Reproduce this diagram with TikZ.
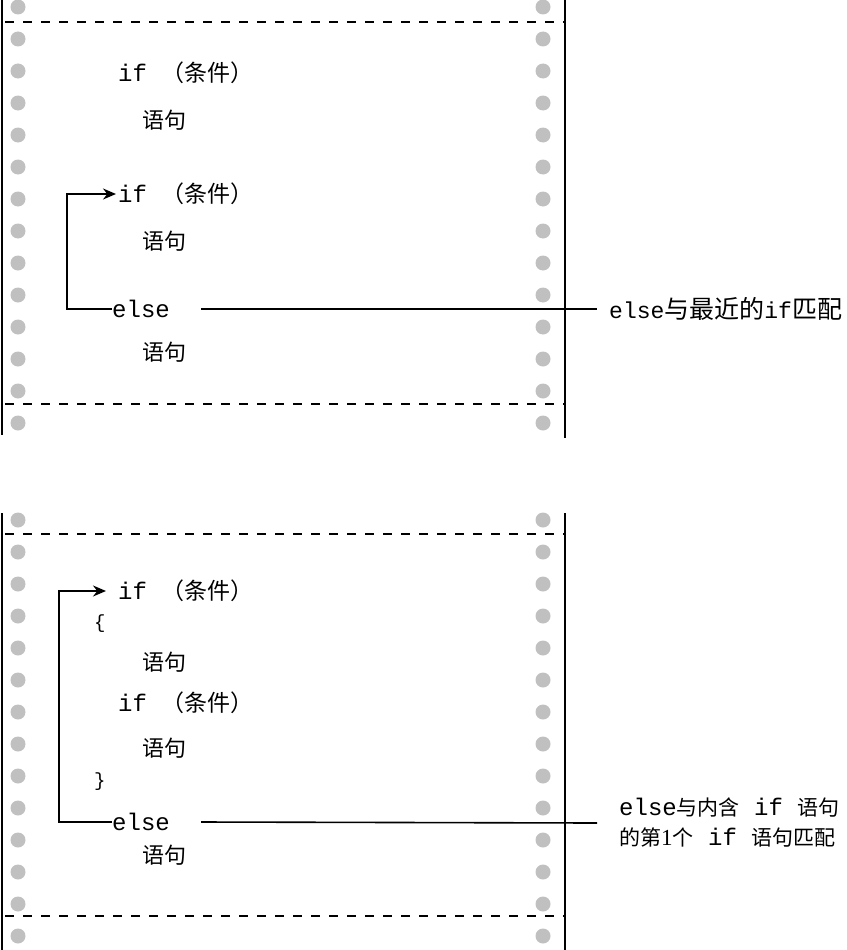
\documentclass[tikz,border=0pt]{standalone}
\usepackage{fontspec}
\setmainfont{Liberation Serif}
\setmonofont{Liberation Mono}
\newfontfamily\cjk{Noto Sans CJK SC}
\usetikzlibrary{arrows.meta}
\definecolor{holegray}{HTML}{C0C0C0}

\tikzset{
    code/.style={anchor=west, inner sep=0pt, font=\fontsize{24}{24}\selectfont\ttfamily},
    brace/.style={anchor=west, inner sep=0pt, font=\fontsize{19}{19}\selectfont\ttfamily},
    stmt/.style={anchor=west, inner sep=0pt, font=\fontsize{22}{22}\selectfont\cjk},
    note/.style={anchor=west, inner sep=0pt, align=left, font=\fontsize{21}{30}\selectfont\cjk},
    hole/.style={fill=holegray, draw=none},
    edge/.style={line width=2pt},
    perf/.style={line width=2pt, dash pattern=on 9pt off 9pt},
    link/.style={line width=1.6pt},
}
\newcommand{\ifcond}{if {\fontsize{23}{23}\selectfont\cjk （条件）}}
\newcommand{\mono}[2][24]{{\fontsize{#1}{#1}\selectfont\ttfamily #2}}

\begin{document}
\begin{tikzpicture}[x=1pt, y=-1pt, >={Stealth[length=13pt,width=11pt]}]
        \useasboundingbox (0,0) rectangle (846,950);

        % paper edges and perforations
        \draw[edge] (2,0) -- (2,435);
        \draw[edge] (565,0) -- (565,438);
        \draw[edge] (2,513) -- (2,950);
        \draw[edge] (565,513) -- (565,950);
        \draw[perf] (5,22) -- (565,22);
        \draw[perf] (5,404) -- (565,404);
        \draw[perf] (5,534) -- (565,534);
        \draw[perf] (5,916) -- (565,916);
        \foreach \y in {7,39,...,423} {
            \fill[hole] (18,\y) circle (7.5);
            \fill[hole] (543,\y) circle (7.5);
        }
        \foreach \y in {520,552,...,936} {
            \fill[hole] (18,\y) circle (7.5);
            \fill[hole] (543,\y) circle (7.5);
        }

        % first listing
        \node[code] (ifa) at (118,73) {\ifcond};
        \node[stmt] (stmta) at (142,120) {语句};
        \node[code] (ifb) at (118,194) {\ifcond};
        \node[stmt] (stmtb) at (142,241) {语句};
        \node[code] (elsea) at (112,309) {else};
        \node[stmt] (stmtc) at (142,352) {语句};
        \node[note, font=\fontsize{25}{30}\selectfont\cjk] (notea) at (609,309) {\mono[23]{else}与最近的\mono[23]{if}匹配};

        \draw[->, link] (elsea.west) -- ++(-45,0) |- ([xshift=-2pt]ifb.west);
        \draw[link] ([xshift=31pt]elsea.east) -- ([xshift=-12pt]notea.west);

        % second listing
        \node[code] (ifc) at (118,591) {\ifcond};
        \node[brace] (lbrace) at (94,624) {\{};
        \node[stmt] (stmtd) at (142,662) {语句};
        \node[code] (ifd) at (118,703) {\ifcond};
        \node[stmt] (stmte) at (142,748) {语句};
        \node[brace] (rbrace) at (94,782) {\}};
        \node[code] (elseb) at (112,822) {else};
        \node[stmt] (stmtf) at (142,855) {语句};
        \node[note] (noteb) at (619,823) {\mono{else}与内含\mono{ if }语句\\的第{\fontsize{23}{23}\selectfont\rmfamily 1}个\mono{ if }语句匹配};

        \draw[->, link] (elseb.west) -- ++(-53,0) |- ([xshift=-12pt]ifc.west);
        \draw[link] ([xshift=31pt]elseb.east) -- ([xshift=-22pt]noteb.west);
    \end{tikzpicture}
\end{document}
